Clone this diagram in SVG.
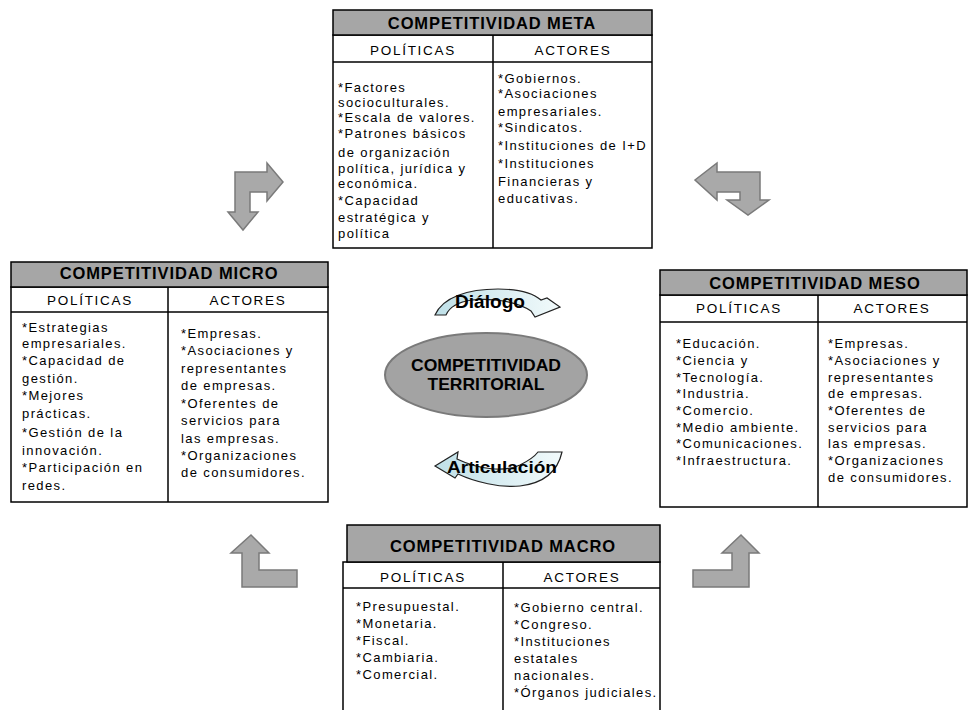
<svg xmlns="http://www.w3.org/2000/svg" width="970" height="710" viewBox="0 0 970 710">
<defs>
<style>
.box{fill:#ffffff;stroke:#000;stroke-width:1.5}
.hdr{fill:#a6a6a6;stroke:#000;stroke-width:1.5}
.ln{stroke:#000;stroke-width:1.5}
.ht{font-family:"Liberation Sans",Arial,sans-serif;font-weight:bold;font-size:16.5px;letter-spacing:0.9px;text-anchor:middle;fill:#000}
.ch{font-family:"Liberation Sans",Arial,sans-serif;font-size:13.5px;letter-spacing:1.7px;text-anchor:middle;fill:#000}
.bt{font-family:"Liberation Sans",Arial,sans-serif;font-size:13px;letter-spacing:1.4px;fill:#000}
.arr{fill:#a9a9a9;stroke:#7a7a7a;stroke-width:1.5;stroke-linejoin:miter}
.cur{fill:url(#cg);stroke:#222;stroke-width:1.2}
.ct{font-family:"Liberation Sans",Arial,sans-serif;font-weight:bold;fill:#000;text-anchor:middle}
</style>
<linearGradient id="cg" x1="0" y1="0" x2="1" y2="0">
<stop offset="0" stop-color="#bfe0e8"/>
<stop offset="1" stop-color="#f2fafb"/>
</linearGradient>
</defs>
<rect width="970" height="710" fill="#ffffff"/>

<g id="meta">
<rect class="box" x="333" y="35" width="319" height="213"/>
<rect class="hdr" x="333" y="10" width="319" height="25"/>
<line class="ln" x1="333" y1="62" x2="652" y2="62"/>
<line class="ln" x1="493" y1="35" x2="493" y2="248"/>
<text class="ht" x="492" y="28.5">COMPETITIVIDAD META</text>
<text class="ch" x="413" y="55">POLÍTICAS</text>
<text class="ch" x="573" y="55">ACTORES</text>
<text class="bt" x="338"><tspan x="338" y="92">*Factores</tspan><tspan x="338" y="107">socioculturales.</tspan><tspan x="338" y="122">*Escala de valores.</tspan><tspan x="338" y="138">*Patrones básicos</tspan><tspan x="338" y="157">de organización</tspan><tspan x="338" y="173">política, jurídica y</tspan><tspan x="338" y="188">económica.</tspan><tspan x="338" y="205">*Capacidad</tspan><tspan x="338" y="222">estratégica y</tspan><tspan x="338" y="238">política</tspan></text>
<text class="bt" x="498"><tspan x="498" y="83">*Gobiernos.</tspan><tspan x="498" y="98">*Asociaciones</tspan><tspan x="498" y="116">empresariales.</tspan><tspan x="498" y="132">*Sindicatos.</tspan><tspan x="498" y="150">*Instituciones de I+D</tspan><tspan x="498" y="168">*Instituciones</tspan><tspan x="498" y="186">Financieras y</tspan><tspan x="498" y="203">educativas.</tspan></text>
</g>

<g id="micro">
<rect class="box" x="11" y="287" width="317" height="215"/>
<rect class="hdr" x="11" y="262" width="317" height="25"/>
<line class="ln" x1="11" y1="312" x2="328" y2="312"/>
<line class="ln" x1="168" y1="287" x2="168" y2="502"/>
<text class="ht" x="169" y="278.5">COMPETITIVIDAD MICRO</text>
<text class="ch" x="90" y="305">POLÍTICAS</text>
<text class="ch" x="248" y="305">ACTORES</text>
<text class="bt" x="22"><tspan x="22" y="332">*Estrategias</tspan><tspan x="22" y="348">empresariales.</tspan><tspan x="22" y="365">*Capacidad de</tspan><tspan x="22" y="383">gestión.</tspan><tspan x="22" y="400">*Mejores</tspan><tspan x="22" y="418">prácticas.</tspan><tspan x="22" y="437">*Gestión de la</tspan><tspan x="22" y="455">innovación.</tspan><tspan x="22" y="472">*Participación en</tspan><tspan x="22" y="490">redes.</tspan></text>
<text class="bt" x="181"><tspan x="181" y="338">*Empresas.</tspan><tspan x="181" y="355">*Asociaciones y</tspan><tspan x="181" y="373">representantes</tspan><tspan x="181" y="390">de empresas.</tspan><tspan x="181" y="408">*Oferentes de</tspan><tspan x="181" y="425">servicios para</tspan><tspan x="181" y="443">las empresas.</tspan><tspan x="181" y="460">*Organizaciones</tspan><tspan x="181" y="477">de consumidores.</tspan></text>
</g>

<g id="meso">
<rect class="box" x="660" y="295" width="307" height="212"/>
<rect class="hdr" x="660" y="270" width="307" height="25"/>
<line class="ln" x1="660" y1="322" x2="967" y2="322"/>
<line class="ln" x1="818" y1="295" x2="818" y2="507"/>
<text class="ht" x="815" y="288.5">COMPETITIVIDAD MESO</text>
<text class="ch" x="739" y="313">POLÍTICAS</text>
<text class="ch" x="892" y="313">ACTORES</text>
<text class="bt" x="676"><tspan x="676" y="348">*Educación.</tspan><tspan x="676" y="365">*Ciencia y</tspan><tspan x="676" y="382">*Tecnología.</tspan><tspan x="676" y="398">*Industria.</tspan><tspan x="676" y="415">*Comercio.</tspan><tspan x="676" y="432">*Medio ambiente.</tspan><tspan x="676" y="448">*Comunicaciones.</tspan><tspan x="676" y="465">*Infraestructura.</tspan></text>
<text class="bt" x="828"><tspan x="828" y="348">*Empresas.</tspan><tspan x="828" y="365">*Asociaciones y</tspan><tspan x="828" y="382">representantes</tspan><tspan x="828" y="398">de empresas.</tspan><tspan x="828" y="415">*Oferentes de</tspan><tspan x="828" y="432">servicios para</tspan><tspan x="828" y="448">las empresas.</tspan><tspan x="828" y="465">*Organizaciones</tspan><tspan x="828" y="482">de consumidores.</tspan></text>
</g>

<g id="macro">
<rect class="box" x="343" y="562" width="317" height="160"/>
<rect class="hdr" x="347" y="525" width="313" height="37"/>
<line class="ln" x1="343" y1="588" x2="660" y2="588"/>
<line class="ln" x1="503" y1="562" x2="503" y2="712"/>
<text class="ht" x="503" y="552">COMPETITIVIDAD MACRO</text>
<text class="ch" x="423" y="582">POLÍTICAS</text>
<text class="ch" x="582" y="582">ACTORES</text>
<text class="bt" x="356"><tspan x="356" y="611">*Presupuestal.</tspan><tspan x="356" y="628">*Monetaria.</tspan><tspan x="356" y="645">*Fiscal.</tspan><tspan x="356" y="662">*Cambiaria.</tspan><tspan x="356" y="679">*Comercial.</tspan></text>
<text class="bt" x="514"><tspan x="514" y="612">*Gobierno central.</tspan><tspan x="514" y="629">*Congreso.</tspan><tspan x="514" y="646">*Instituciones</tspan><tspan x="514" y="663">estatales</tspan><tspan x="514" y="680">nacionales.</tspan><tspan x="514" y="697">*Órganos judiciales.</tspan></text>
</g>

<g id="territorial">
<ellipse cx="486" cy="375" rx="101" ry="42" fill="#a3a3a3" stroke="#7a7a7a" stroke-width="2"/>
<text class="ct" x="486" y="371" font-size="16.5" textLength="150" lengthAdjust="spacingAndGlyphs">COMPETITIVIDAD</text>
<text class="ct" x="486" y="390" font-size="16.5" textLength="117" lengthAdjust="spacingAndGlyphs">TERRITORIAL</text>
</g>

<g id="connectors">
<path class="arr" d="M235,172 L267,172 L267,163 L283,182 L267,201 L267,192 L250,192 L250,212 L258,212 L243,230 L228,212 L235,212 Z"/>
<path class="arr" d="M717,172 L760,172 L760,200 L769,200 L748,215 L727,200 L740,200 L740,192 L717,192 L717,200 L695,180 L717,163 Z"/>
<path class="arr" d="M251,535 L269,553 L259,553 L259,570 L297,570 L297,587 L242,587 L242,553 L231,553 Z"/>
<path class="arr" d="M693,570 L732,570 L732,553 L722,553 L741,535 L759,553 L749,553 L749,587 L693,587 Z"/>
<g id="dialogo">
<path class="cur" d="M435,315 C443,297 468,289 498,289 C518,289 533,293 541,300 L547,298 L560,307 L535,317 L531,311 C516,301 492,298 472,300 C458,302 449,308 446,315 Z"/>
<text class="ct" x="490" y="308" font-size="18" textLength="70" lengthAdjust="spacingAndGlyphs">Diálogo</text>
</g>
<g id="articulacion">
<path class="cur" d="M435,466 L458,452 L457,459 C480,470 505,472 520,465 C530,460 535,456 538,452 L562,452 C558,470 545,483 520,486 C500,488 475,482 458,474 L455,478 Z"/>
<text class="ct" x="502" y="473" font-size="17" textLength="110" lengthAdjust="spacingAndGlyphs">Articulación</text>
</g>
</g>
</svg>
